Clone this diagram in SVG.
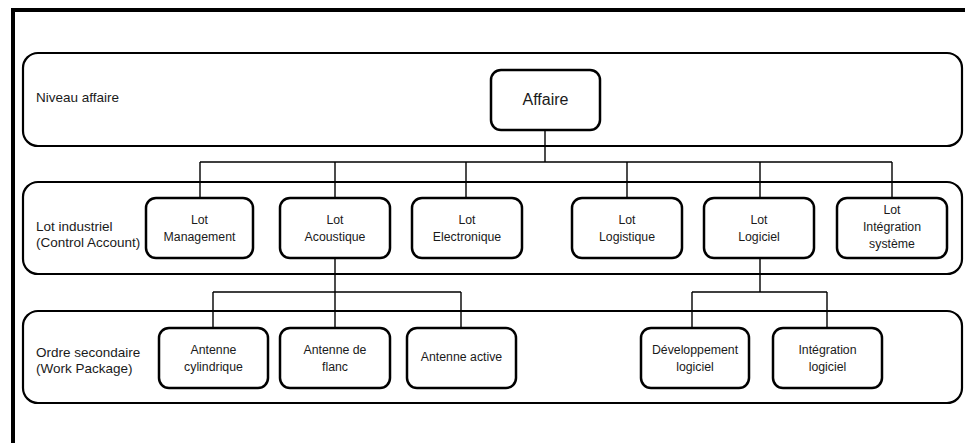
<svg xmlns="http://www.w3.org/2000/svg" width="965" height="443" viewBox="0 0 965 443">
<style>
text{font-family:"Liberation Sans",Arial,sans-serif;fill:#1a1a1a}
.band{fill:#fff;stroke:#000;stroke-width:2.2}
.box{fill:#fff;stroke:#000;stroke-width:2.5}
.lbl{font-size:13.5px}
.t{font-size:12.3px;text-anchor:middle}
.conn{fill:none;stroke:#000;stroke-width:1.4}
.frame{fill:none;stroke:#000;stroke-width:4}
</style>
<rect width="965" height="443" fill="#fff"/>
<path class="frame" d="M13,443 V10 H965"/>
<g id="band-affaire"><rect class="band" x="23" y="53" width="939" height="93" rx="15"/><text class="lbl" x="36" y="102">Niveau affaire</text></g>
<g id="band-lot"><rect class="band" x="23" y="182" width="939" height="92" rx="15"/><text class="lbl" x="36" y="231">Lot industriel</text><text class="lbl" x="36" y="247">(Control Account)</text></g>
<g id="band-ordre"><rect class="band" x="23" y="311" width="939" height="92" rx="15"/><text class="lbl" x="36" y="357">Ordre secondaire</text><text class="lbl" x="36" y="373">(Work Package)</text></g>
<g id="connectors">
<path class="conn" d="M545,130 V162 M200,162 H892 M200,162 V198 M335,162 V198 M466,162 V198 M627,162 V198 M760,162 V198 M892,162 V198"/>
<path class="conn" d="M335,258 V292 M213,292 H461 M213,292 V328 M335,292 V328 M461,292 V328"/>
<path class="conn" d="M760,258 V292 M692,292 H827 M692,292 V328 M827,292 V328"/>
</g>
<g id="affaire"><rect class="box" x="491" y="70" width="109" height="60" rx="10"/><text x="545.5" y="105" style="font-size:16px;text-anchor:middle">Affaire</text></g>
<g id="lot-management"><rect class="box" x="146" y="198" width="107" height="60" rx="10"/><text class="t" x="199.5" y="224">Lot</text><text class="t" x="199.5" y="241">Management</text></g>
<g id="lot-acoustique"><rect class="box" x="280" y="198" width="110" height="60" rx="10"/><text class="t" x="335" y="224">Lot</text><text class="t" x="335" y="241">Acoustique</text></g>
<g id="lot-electronique"><rect class="box" x="412" y="198" width="110" height="60" rx="10"/><text class="t" x="467" y="224">Lot</text><text class="t" x="467" y="241">Electronique</text></g>
<g id="lot-logistique"><rect class="box" x="572" y="198" width="110" height="60" rx="10"/><text class="t" x="627" y="224">Lot</text><text class="t" x="627" y="241">Logistique</text></g>
<g id="lot-logiciel"><rect class="box" x="704" y="198" width="110" height="60" rx="10"/><text class="t" x="759" y="224">Lot</text><text class="t" x="759" y="241">Logiciel</text></g>
<g id="lot-integration"><rect class="box" x="837" y="198" width="110" height="60" rx="10"/><text class="t" x="892" y="214">Lot</text><text class="t" x="892" y="231">Intégration</text><text class="t" x="892" y="248">système</text></g>
<g id="antenne-cylindrique"><rect class="box" x="159" y="328" width="109" height="60" rx="10"/><text class="t" x="213.5" y="354">Antenne</text><text class="t" x="213.5" y="371">cylindrique</text></g>
<g id="antenne-flanc"><rect class="box" x="280" y="328" width="110" height="60" rx="10"/><text class="t" x="335" y="354">Antenne de</text><text class="t" x="335" y="371">flanc</text></g>
<g id="antenne-active"><rect class="box" x="407" y="328" width="109" height="60" rx="10"/><text class="t" x="461.5" y="361">Antenne active</text></g>
<g id="developpement-logiciel"><rect class="box" x="641" y="328" width="108" height="60" rx="10"/><text class="t" x="695" y="354">Développement</text><text class="t" x="695" y="371">logiciel</text></g>
<g id="integration-logiciel"><rect class="box" x="773" y="328" width="109" height="60" rx="10"/><text class="t" x="827.5" y="354">Intégration</text><text class="t" x="827.5" y="371">logiciel</text></g>
</svg>
